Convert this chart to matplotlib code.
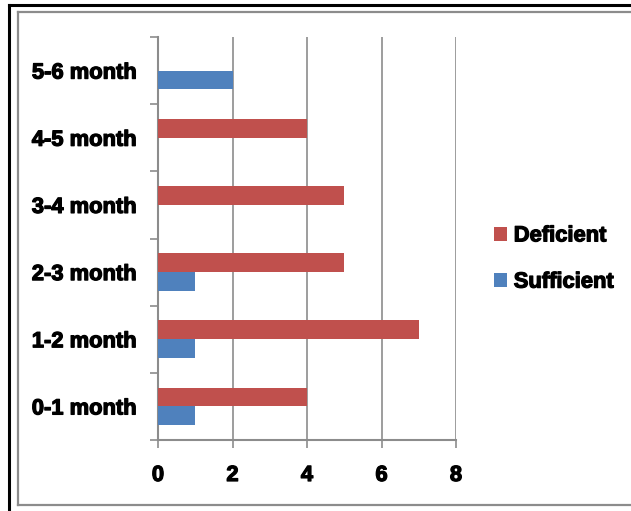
import matplotlib
matplotlib.use("Agg")
import matplotlib.pyplot as plt
import matplotlib.patheffects as pe
from matplotlib.lines import Line2D
import numpy as np

categories = ["0-1 month", "1-2 month", "2-3 month", "3-4 month", "4-5 month", "5-6 month"]
deficient = [4, 7, 5, 5, 4, 0]
sufficient = [1, 1, 1, 0, 0, 2]
x_ticks = [0, 2, 4, 6, 8]

RED = "#C0504D"
BLUE = "#4F81BD"
GRAY = "#8C8C8C"

plt.rcParams["font.family"] = ["Liberation Sans", "DejaVu Sans"]
plt.rcParams["font.weight"] = "bold"
FS = 15.8
heavy = [pe.withStroke(linewidth=0.9, foreground="black")]

fig = plt.figure(figsize=(6.31, 5.11), dpi=100)
W, H = 631, 511
ax = fig.add_axes([158 / W, 1 - 440 / H, (456 - 158) / W, (440 - 37) / H])

y = np.arange(len(categories))
bh = 0.28
ax.barh(y + bh / 2, deficient, height=bh, color=RED, label="Deficient", zorder=3)
ax.barh(y - bh / 2, sufficient, height=bh, color=BLUE, label="Sufficient", zorder=3)

ax.set_xlim(0, 8)
ax.set_ylim(-0.5, len(categories) - 0.5)
ax.set_xticks(x_ticks)
ax.set_xticklabels([str(v) for v in x_ticks], fontsize=FS, fontweight="bold")
ax.set_yticks(np.arange(-0.5, len(categories), 1.0))
ax.set_yticklabels([])
ax.set_yticks(y, minor=True)
ax.set_yticklabels(categories, minor=True, fontsize=FS, fontweight="bold")
ax.tick_params(axis="y", which="minor", length=0, pad=15)
ax.tick_params(axis="y", which="major", length=6, width=1.2, color=GRAY, direction="out")
ax.tick_params(axis="x", length=6, width=1.2, color=GRAY, direction="out", pad=12)
for t in ax.get_xticklabels() + ax.get_yticklabels(minor=True):
    t.set_path_effects(heavy)

ax.xaxis.grid(True, color=GRAY, linewidth=1.2, zorder=0)
ax.yaxis.grid(False)
for s in ["top", "right"]:
    ax.spines[s].set_visible(False)
for s in ["left", "bottom"]:
    ax.spines[s].set_color(GRAY)
    ax.spines[s].set_linewidth(1.5)

leg = ax.legend(loc="center left", bbox_to_anchor=(494 / W, 1 - 259 / H),
                bbox_transform=fig.transFigure, frameon=False,
                prop={"size": FS, "weight": "bold"}, handlelength=0.6,
                handleheight=0.6, handletextpad=0.3, labelspacing=1.15,
                borderaxespad=0, borderpad=0)
for t in leg.get_texts():
    t.set_path_effects(heavy)

# Frame around the figure: outer black edge and inner gray edge
def fline(xs, ys, color, lw):
    fig.add_artist(Line2D([v / W for v in xs], [1 - v / H for v in ys],
                          color=color, linewidth=lw, transform=fig.transFigure))

fline([9, 9], [5, 511], "black", 2.2)
fline([9, 631], [5, 5], "black", 2.2)
fline([18, 18], [12, 505], GRAY, 1.6)
fline([18, 631], [12, 12], GRAY, 1.6)
fline([18, 631], [505, 505], GRAY, 1.6)

fig.savefig("out.png", dpi=100)
